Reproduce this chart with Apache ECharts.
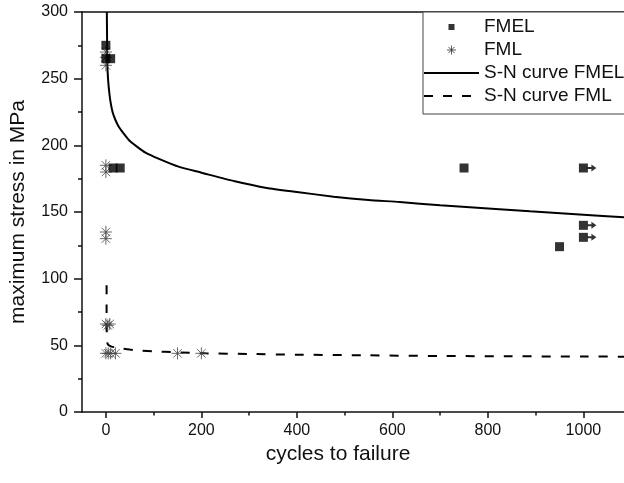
<!DOCTYPE html>
<html>
<head>
<meta charset="utf-8">
<script src="https://cdn.jsdelivr.net/npm/echarts@6/dist/echarts.min.js"></script>
<style>
  html, body { margin: 0; padding: 0; background: #fff; }
  #chart { width: 624px; height: 483px; }
</style>
</head>
<body>
<div id="chart"></div>
<script>
// Fatigue test results: maximum stress (MPa) vs. cycles to failure
const fmelPoints = [
  [0, 275], [0, 265], [10, 265], [15, 183], [30, 183],
  [750, 183], [1000, 183], [1000, 140], [1000, 131], [950, 124]
];
// specimens that did not fail (run-outs), marked with an arrow
const fmelRunOuts = [[1000, 183], [1000, 140], [1000, 131]];

const fmlPoints = [
  [0, 270], [0, 266], [0, 260],
  [0, 185], [0, 180],
  [0, 135], [0, 130],
  [0, 66], [4, 65], [8, 66],
  [0, 44], [5, 44], [10, 44], [20, 44],
  [150, 44], [200, 44]
];

const snCurveFmel = [
  [2, 300], [2.5, 280], [3, 262], [4.5, 250], [7, 240], [10, 232], [14, 225],
  [20, 219], [27, 214], [37, 209], [48, 204], [65, 199], [83, 194.5], [110, 190],
  [152, 184], [200, 179.5], [270, 173], [337, 168], [400, 165], [477, 161.5],
  [550, 159], [615, 157.5], [700, 155], [824, 152], [888, 150.5], [1000, 148], [1085, 146]
];

const snCurveFml = [
  [1.5, 95], [1.5, 75], [1.7, 62], [2.2, 56], [3, 52], [6, 50], [12, 49], [20, 48.5],
  [35, 47.5], [50, 46.8], [75, 46], [100, 45.5], [146, 44.8], [208, 44], [300, 43.5],
  [400, 43], [550, 42.5], [700, 42], [850, 41.8], [1000, 41.6], [1085, 41.5]
];

const xMajorTicks = [0, 200, 400, 600, 800, 1000];
const xMinorTicks = [100, 300, 500, 700, 900];

const FONT = '"Liberation Sans", Arial, sans-serif';
const INK = '#111';
const X_MIN = -50, X_MAX = 1085;

const asteriskPath = 'path://M0,6H12M6,0V12M1.8,1.8L10.2,10.2M10.2,1.8L1.8,10.2';
const arrowPath = 'path://M0,2.5L4,2.5L4,0L9,3.5L4,7L4,4.5L0,4.5Z';
const legendSquare = 'path://M0,0M9,9M1.5,1.5H7.5V7.5H1.5Z';
const hiddenMarker = { color: 'transparent', borderColor: 'transparent', borderWidth: 0 };

const chart = echarts.init(document.getElementById('chart'), null, { renderer: 'canvas' });

const baseX = { type: 'value', min: X_MIN, max: X_MAX, splitLine: { show: false } };

chart.setOption({
  animation: false,
  backgroundColor: '#fff',
  grid: { left: 81, right: 0, top: 12, bottom: 71, containLabel: false },
  xAxis: [
    Object.assign({}, baseX, {
      position: 'bottom',
      name: 'cycles to failure',
      nameLocation: 'middle',
      nameGap: 29,
      nameTextStyle: { fontFamily: FONT, fontSize: 21, color: INK, padding: [0, 30, 0, 0] },
      axisLine: { show: true, onZero: false, lineStyle: { color: INK, width: 1.5 } },
      axisTick: { show: true, length: 6, customValues: xMajorTicks, lineStyle: { color: INK, width: 1.5 } },
      axisLabel: {
        customValues: xMajorTicks, margin: 11,
        fontFamily: FONT, fontSize: 16, color: INK,
        formatter: (v) => String(v)
      }
    }),
    Object.assign({}, baseX, {
      position: 'bottom',
      axisLine: { show: false, onZero: false },
      axisTick: { show: true, length: 3.5, customValues: xMinorTicks, lineStyle: { color: INK, width: 1.5 } },
      axisLabel: { show: false }
    }),
    Object.assign({}, baseX, {
      position: 'top',
      axisLine: { show: true, onZero: false, lineStyle: { color: INK, width: 1.5 } },
      axisTick: { show: false },
      axisLabel: { show: false }
    })
  ],
  yAxis: {
    type: 'value', min: 0, max: 300, interval: 50,
    name: 'maximum stress in MPa',
    nameLocation: 'middle',
    nameGap: 53,
    nameTextStyle: { fontFamily: FONT, fontSize: 21, color: INK },
    splitLine: { show: false },
    axisLine: { show: true, onZero: false, lineStyle: { color: INK, width: 1.5 } },
    axisTick: { show: true, length: 8, lineStyle: { color: INK, width: 1.5 } },
    minorTick: { show: true, splitNumber: 2, length: 4, lineStyle: { color: INK, width: 1.5 } },
    axisLabel: { margin: 14, fontFamily: FONT, fontSize: 16, color: INK }
  },
  legend: {
    orient: 'vertical',
    left: 423, top: 12,
    itemWidth: 55, itemHeight: 9, itemGap: 3,
    padding: [5, 14, 8, 0],
    borderColor: '#444', borderWidth: 1, backgroundColor: '#fff',
    selectedMode: false,
    textStyle: { fontFamily: FONT, fontSize: 19, color: INK, lineHeight: 20 },
    data: [
      { name: 'FMEL', icon: legendSquare, itemStyle: { color: '#000' } },
      { name: 'FML', icon: asteriskPath, itemStyle: { color: 'transparent', borderColor: '#333', borderWidth: 1 } },
      { name: 'S-N curve FMEL', itemStyle: hiddenMarker },
      { name: 'S-N curve FML', itemStyle: hiddenMarker }
    ]
  },
  series: [
    {
      name: 'S-N curve FMEL', type: 'line', data: snCurveFmel,
      symbol: 'none', smooth: 0.2, silent: true, z: 2,
      itemStyle: hiddenMarker,
      lineStyle: { color: '#000', width: 2 }
    },
    {
      name: 'S-N curve FML', type: 'line', data: snCurveFml,
      symbol: 'none', smooth: 0.2, silent: true, z: 2,
      itemStyle: hiddenMarker,
      lineStyle: { color: '#000', width: 2, type: [9, 10] }
    },
    {
      name: 'FML', type: 'scatter', data: fmlPoints,
      symbol: asteriskPath, symbolSize: 12, silent: true, z: 3,
      itemStyle: { color: 'transparent', borderColor: '#444', borderWidth: 1 }
    },
    {
      name: 'FMEL', type: 'scatter', data: fmelPoints,
      symbol: 'rect', symbolSize: 9, silent: true, z: 4,
      itemStyle: { color: '#000' }
    },
    {
      name: 'FMEL run-out', type: 'scatter', data: fmelRunOuts,
      symbol: arrowPath, symbolSize: [9, 7], symbolOffset: [8.5, 0], silent: true, z: 4,
      itemStyle: { color: '#000' }
    }
  ]
});
</script>
</body>
</html>
